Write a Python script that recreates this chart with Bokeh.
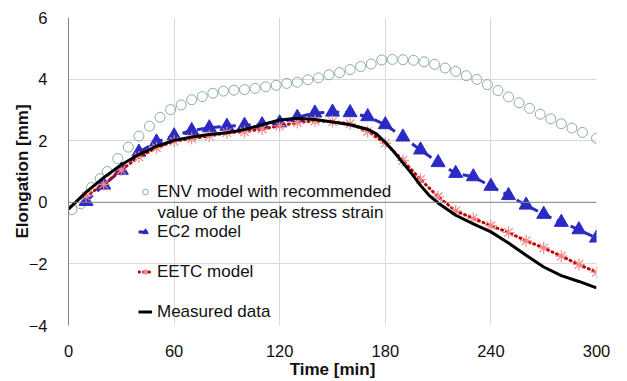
from bokeh.plotting import figure
from bokeh.models import Legend, LegendItem, Span, Label
from bokeh.embed import file_html
from bokeh.resources import INLINE

# ---- data ----
time_env = [2, 7, 13, 18, 22, 28, 34, 40, 46, 52, 58, 64, 70, 76, 82, 88, 94, 100,
            106, 112, 118, 124, 130, 136, 142, 148, 154, 160, 166, 172, 178, 184,
            190, 196, 202, 208, 214, 220, 226, 232, 238, 244, 250, 256, 262, 268,
            274, 280, 286, 292, 300]
env_model = [-0.24, -0.05, 0.48, 0.77, 1.00, 1.42, 1.79, 2.15, 2.47, 2.76, 3.01, 3.16,
             3.33, 3.43, 3.54, 3.61, 3.64, 3.66, 3.70, 3.75, 3.80, 3.86, 3.90, 3.98,
             4.04, 4.14, 4.21, 4.31, 4.41, 4.49, 4.62, 4.64, 4.63, 4.61, 4.56, 4.48,
             4.36, 4.25, 4.11, 3.99, 3.82, 3.63, 3.42, 3.23, 3.05, 2.86, 2.71, 2.55,
             2.41, 2.27, 2.08]

time_model = [10, 20, 30, 40, 50, 60, 70, 80, 90, 100, 110, 120, 130, 140, 150,
              160, 170, 180, 190, 200, 210, 220, 230, 240, 250, 260, 270, 280, 290, 300]
ec2_model = [0.03, 0.56, 1.04, 1.63, 1.96, 2.16, 2.33, 2.42, 2.47, 2.50, 2.52, 2.58,
             2.76, 2.90, 2.93, 2.91, 2.78, 2.52, 2.12, 1.70, 1.29, 0.94, 0.83, 0.52,
             0.22, -0.09, -0.39, -0.65, -0.89, -1.16]
eetc_model = [0.20, 0.58, 1.05, 1.47, 1.77, 1.98, 2.07, 2.15, 2.26, 2.29, 2.38, 2.48,
              2.59, 2.64, 2.62, 2.55, 2.30, 1.92, 1.36, 0.74, 0.18, -0.28, -0.52, -0.76,
              -0.98, -1.25, -1.48, -1.75, -2.02, -2.27]

time_meas = [0, 10, 20, 30, 40, 50, 60, 70, 80, 90, 100, 110, 120, 130, 140, 150, 160,
             170, 175, 180, 185, 190, 195, 200, 205, 210, 220, 230, 240, 250, 260, 270,
             280, 290, 300]
measured = [-0.22, 0.33, 0.80, 1.22, 1.55, 1.82, 2.01, 2.12, 2.20, 2.26, 2.36, 2.52,
            2.67, 2.73, 2.69, 2.61, 2.52, 2.37, 2.22, 1.95, 1.63, 1.28, 0.93, 0.55, 0.22,
            -0.02, -0.42, -0.70, -0.96, -1.32, -1.72, -2.10, -2.38, -2.57, -2.78]

x_ticks = [0, 60, 120, 180, 240, 300]
y_ticks = [-4, -2, 0, 2, 4, 6]
label_env = "ENV model with recommended"
label_env2 = "value of the peak stress strain"
label_ec2 = "EC2 model"
label_eetc = "EETC model"
label_meas = "Measured data"

FONT = "Liberation Sans"

p = figure(width=627, height=381, x_range=(0, 300), y_range=(-4, 6),
           output_backend="svg", toolbar_location=None,
           min_border_left=68, min_border_right=31, min_border_top=17, min_border_bottom=0)
p.outline_line_color = None
p.background_fill_color = "white"
p.border_fill_color = "white"

for ax in (p.xaxis[0], p.yaxis[0]):
    ax.major_tick_line_color = None
    ax.minor_tick_line_color = None
    ax.major_label_text_font = FONT
    ax.major_label_text_font_size = "16.5px"
    ax.major_label_text_color = "#111111"
    ax.axis_label_text_font = FONT
    ax.axis_label_text_font_size = "17px"
    ax.axis_label_text_font_style = "bold"
    ax.axis_label_text_color = "#111111"

p.xaxis.ticker = x_ticks
p.yaxis.ticker = y_ticks
p.xaxis.axis_line_color = None
p.yaxis.axis_line_color = "#868686"
p.xaxis.axis_label = "Time [min]"
p.yaxis.axis_label = "Elongation [mm]"
p.xaxis.major_label_standoff = 13
p.xaxis.axis_label_standoff = 0
p.yaxis.major_label_standoff = 15
p.yaxis.axis_label_standoff = -6

p.xgrid.grid_line_color = "#D9D9D9"
p.ygrid.grid_line_color = "#D9D9D9"

p.add_layout(Span(location=0, dimension="width", line_color="#868686", line_width=1))

env_color = "#8DAE9B"
env_r = p.scatter(time_env, env_model, marker="circle", size=10, fill_color=None,
                  line_color=env_color, line_width=1)
env_leg_line = p.line([], [], line_color=env_color, line_width=1)

blue = "#2B2BC4"
ec2_line = p.line(time_model, ec2_model, line_color=blue, line_width=3, line_dash="9 6")
ec2_pts = p.scatter(time_model, ec2_model, marker="triangle", size=14,
                    fill_color=blue, line_color=blue)

red = "#C00000"
eetc_line = p.line(time_model, eetc_model, line_color=red, line_width=3,
                   line_dash="1 4", line_cap="round")
eetc_pts = p.scatter(time_model, eetc_model, marker="asterisk", size=12,
                     line_color="#F08A8A", line_width=1.2)

meas_line = p.line(time_meas, measured, line_color="black", line_width=3)

legend = Legend(items=[
    LegendItem(label=label_env, renderers=[env_leg_line, env_r]),
    LegendItem(label=label_ec2, renderers=[ec2_line, ec2_pts]),
    LegendItem(label=label_eetc, renderers=[eetc_line, eetc_pts]),
    LegendItem(label=label_meas, renderers=[meas_line]),
], location=(70, 3))
legend.padding = 0
legend.margin = 0
legend.spacing = 19
legend.label_height = 21
legend.glyph_height = 21
legend.glyph_width = 14
legend.label_standoff = 5
legend.label_text_font = FONT
legend.label_text_font_size = "17px"
legend.label_text_color = "#111111"
legend.border_line_color = None
legend.background_fill_alpha = 0
p.add_layout(legend)

p.add_layout(Label(x=89, y=113, x_units="screen", y_units="screen", text=label_env2,
                   text_font=FONT, text_font_size="17px", text_color="#111111",
                   text_baseline="middle"))

open("out.html", "w").write(file_html(p, INLINE))
